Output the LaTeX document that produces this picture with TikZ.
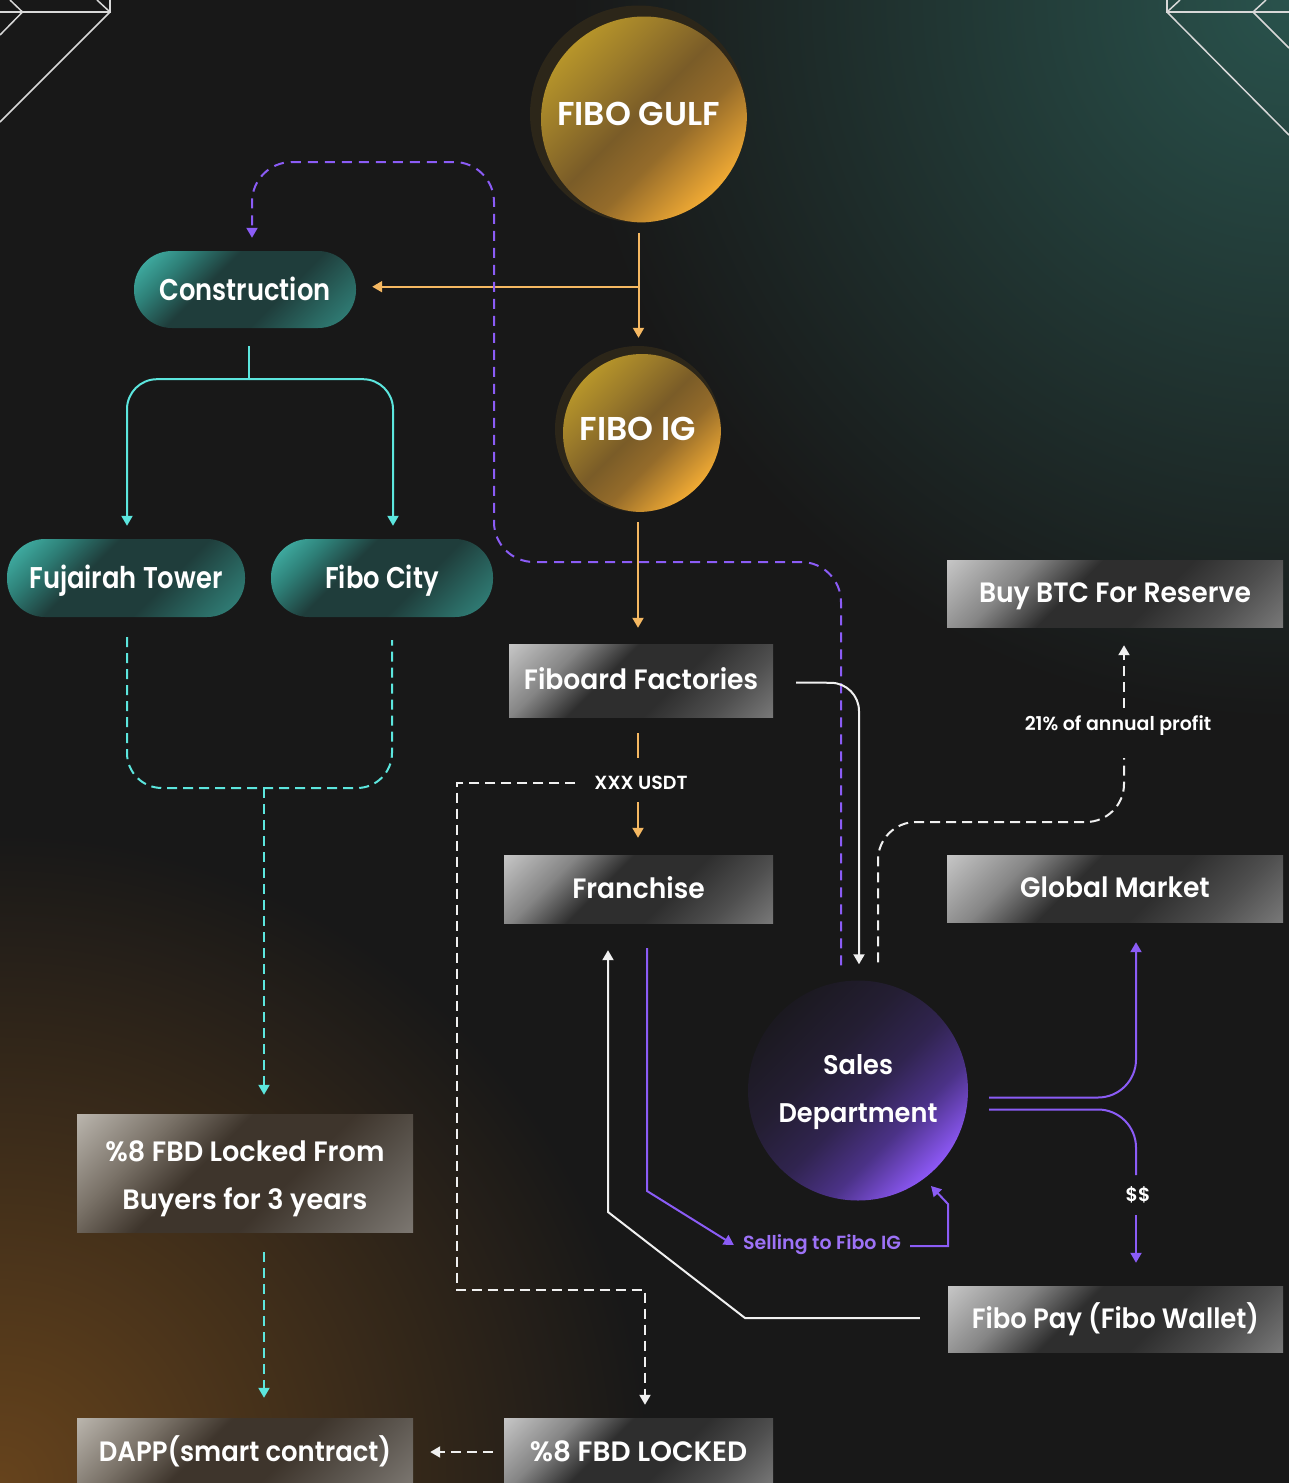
\documentclass[tikz,border=0pt]{standalone}
\usepackage{fontspec}
\newfontfamily\popA{Poppins SemiBold}[FakeStretch=0.86]
\newfontfamily\popB{Poppins SemiBold}[FakeStretch=0.95]
\newfontfamily\popC{Poppins SemiBold}
\newfontfamily\popD{Poppins SemiBold}[FakeStretch=0.97]
\newfontfamily\popE{Poppins SemiBold}[FakeStretch=0.925]
\usetikzlibrary{arrows.meta,calc}
\definecolor{bg}{HTML}{181818}
\definecolor{tglow}{HTML}{29524C}
\definecolor{bglow}{HTML}{66431C}
\definecolor{corng}{HTML}{F5B862}
\definecolor{ccyan}{HTML}{5CE6DE}
\definecolor{cpurp}{HTML}{8B5CF6}
\definecolor{cpurptxt}{HTML}{9D72F7}
\definecolor{cwhite}{HTML}{F0F0F0}
\definecolor{ccorner}{HTML}{D8D8D8}
\definecolor{halo}{HTML}{2C2619}
% gray box
\definecolor{gsA}{HTML}{C4C4C4}
\definecolor{gsB}{HTML}{858585}
\definecolor{gsC}{HTML}{2E2E2E}
\definecolor{gsD}{HTML}{4E4E4E}
\definecolor{gsE}{HTML}{7A7A7A}
\pgfdeclarehorizontalshading{graysh}{100bp}{color(0bp)=(gsA); color(15bp)=(gsA); color(30bp)=(gsB); color(42bp)=(gsC); color(58bp)=(gsC); color(72bp)=(gsD); color(86bp)=(gsE); color(100bp)=(gsE)}
% warm box
\definecolor{wsA}{HTML}{B8B3AB}
\definecolor{wsB}{HTML}{7A7268}
\definecolor{wsC}{HTML}{3E352C}
\definecolor{wsD}{HTML}{5C564F}
\definecolor{wsE}{HTML}{7D7872}
\pgfdeclarehorizontalshading{warmsh}{100bp}{color(0bp)=(wsA); color(15bp)=(wsA); color(30bp)=(wsB); color(42bp)=(wsC); color(58bp)=(wsC); color(72bp)=(wsD); color(86bp)=(wsE); color(100bp)=(wsE)}
% teal pill
\definecolor{tsA}{HTML}{48C2B6}
\definecolor{tsB}{HTML}{2E8078}
\definecolor{tsC}{HTML}{1F3D3B}
\definecolor{tsD}{HTML}{2A6862}
\definecolor{tsE}{HTML}{348A82}
\pgfdeclarehorizontalshading{tealsh}{100bp}{color(0bp)=(tsA); color(14bp)=(tsA); color(28bp)=(tsB); color(40bp)=(tsC); color(60bp)=(tsC); color(74bp)=(tsD); color(86bp)=(tsE); color(100bp)=(tsE)}
% gold
\definecolor{gdA}{HTML}{BE9C2A}
\definecolor{gdB}{HTML}{9C7C2A}
\definecolor{gdC}{HTML}{7A5C28}
\definecolor{gdD}{HTML}{946B2A}
\definecolor{gdE}{HTML}{F0AA34}
\pgfdeclarehorizontalshading{goldsh}{100bp}{color(0bp)=(gdA); color(25bp)=(gdA); color(38bp)=(gdB); color(50bp)=(gdC); color(60bp)=(gdD); color(75bp)=(gdE); color(100bp)=(gdE)}
% purple
\definecolor{psA}{HTML}{1B1920}
\definecolor{psB}{HTML}{241E33}
\definecolor{psC}{HTML}{30244F}
\definecolor{psD}{HTML}{4B3287}
\definecolor{psE}{HTML}{8D58F6}
\pgfdeclarehorizontalshading{purpsh}{100bp}{color(0bp)=(psA); color(25bp)=(psA); color(40bp)=(psB); color(52bp)=(psC); color(63bp)=(psD); color(75bp)=(psE); color(100bp)=(psE)}
\newcommand\fBig{\popC\fontsize{33}{40}\selectfont}
\newcommand\fPill{\popA\fontsize{30}{36}\selectfont}
\newcommand\fBoxT{\popB\fontsize{28}{34}\selectfont}
\newcommand\fBoxN{\popE\fontsize{28}{34}\selectfont}
\newcommand\fCapsT{\popC\fontsize{28}{34}\selectfont}
\newcommand\fTwo{\popD\fontsize{28}{48}\selectfont}
\newcommand\fSales{\popB\fontsize{27}{48}\selectfont}
\newcommand\fLab{\popC\fontsize{19}{24}\selectfont}
\begin{document}
\begin{tikzpicture}[x=1pt,y=-1pt,
  >={Triangle[length=10pt,width=11pt]},
  oline/.style={draw=corng,line width=2pt},
  cline/.style={draw=ccyan,line width=2pt},
  cdash/.style={cline,dash pattern=on 10pt off 6pt},
  pline/.style={draw=cpurp,line width=2pt},
  pdash/.style={pline,dash pattern=on 10pt off 7pt},
  wline/.style={draw=cwhite,line width=2pt},
  wdash/.style={wline,dash pattern=on 10pt off 6pt},
  cornerline/.style={draw=ccorner,line width=1.5pt},
  graybox/.style={rectangle,inner sep=0pt,shade,shading=graysh,shading angle=-45,text=white,font=\fBoxT,text height=18pt,text depth=0pt},
  warmbox/.style={rectangle,inner sep=0pt,shade,shading=warmsh,shading angle=-45,text=white,font=\fBoxT,text height=18pt,text depth=0pt},
  pill/.style={rectangle,rounded corners=38pt,inner sep=0pt,shade,shading=tealsh,shading angle=-45,text=white,font=\fPill,text height=21.5pt,text depth=0pt},
  goldc/.style={circle,inner sep=0pt,fill=halo,text=white,font=\fBig,text depth=0pt},
  lab/.style={inner sep=0pt,text=white,font=\fLab}
]
\useasboundingbox (0,0) rectangle (1289,1483);
% background
\fill[bg] (0,0) rectangle (1289,1483);
\begin{scope}
\clip (0,0) rectangle (1289,1483);
\shade[inner color=tglow, outer color=bg] (1289,0) circle (720);
\shade[inner color=bglow, outer color=bg] (0,1483) circle (650);
\end{scope}
% corner ornaments
\draw[cornerline] (0,12) -- (110,12) -- (110,0);
\draw[cornerline] (97,0) -- (110,12) -- (0,122);
\draw[cornerline] (10,0) -- (22.5,12) -- (0,35);
\draw[cornerline] (1167,0) -- (1167,12) -- (1289,12);
\draw[cornerline] (1180,0) -- (1167,12) -- (1289,135);
\draw[cornerline] (1266,0) -- (1253,12) -- (1289,48);

% nodes
\node[goldc, minimum size=217pt, path picture={\shade[shading=goldsh,shading angle=-45] ($(path picture bounding box.center)+(5.5,5.5)$) circle (103);}] (gulf) at (638.5,114) {FIBO GULF};
\node[goldc, minimum size=166pt, path picture={\shade[shading=goldsh,shading angle=-45] ($(path picture bounding box.center)+(4,4)$) circle (79);}] (ig) at (638,429) {FIBO IG};

\node[pill, minimum width=222pt, minimum height=77pt] (cons) at (245,289.5) {Construction};
\node[pill, minimum width=238pt, minimum height=78pt] (fuj) at (126,578) {Fujairah Tower};
\node[pill, minimum width=222pt, minimum height=78pt] (city) at (382,578) {Fibo City};

\node[graybox, minimum width=264pt, minimum height=73pt] (fiboard) at (641,680.5) {Fiboard Factories};
\node[graybox, minimum width=269pt, minimum height=68pt] (franchise) at (638.5,889) {Franchise};
\node[graybox, minimum width=336pt, minimum height=67pt] (btc) at (1115,593.5) {Buy BTC For Reserve};
\node[graybox, minimum width=336pt, minimum height=67pt] (global) at (1115,888.5) {Global Market};
\node[graybox, minimum width=335pt, minimum height=66pt, font=\fBoxN] (fibopay) at (1115.5,1319) {Fibo Pay (Fibo Wallet)};
\node[warmbox, minimum width=336pt, minimum height=118pt, align=center, font=\fTwo, text height=72pt, text depth=0pt] (lock3) at (245,1173) {\%8 FBD Locked From\\Buyers for 3 years};
\node[warmbox, minimum width=336pt, minimum height=68pt, font=\fBoxN] (dapp) at (245,1452) {DAPP(smart contract)};
\node[graybox, minimum width=269pt, minimum height=68pt, font=\fCapsT] (fbdl) at (638.5,1452) {\%8 FBD LOCKED};

\node[circle, minimum size=220pt, inner sep=0pt, shade, shading=purpsh, shading angle=-45, text=white, align=center, font=\fSales, text height=64pt, text depth=0pt] (sales) at (858,1090.5) {Sales\\Department};

\node[lab] (xxx) at (641,783) {XXX USDT};
\node[lab] (prof) at (1118,726) {21\% of annual profit};
\node[lab] (dol) at (1138,1195) {\$\$};
\node[lab, text=cpurptxt] (sell) at (822,1245) {Selling to Fibo IG};

% orange connectors
\draw[oline,->] ($(gulf.south)+(0,10)$) -- ($(ig.north)+(0.5,-8)$);
\coordinate (obr) at ($(gulf.south)+(0,64)$);
\draw[oline,->] (obr) -- ($(cons.east |- obr)+(16,0)$);
\draw[oline,->] ($(ig.south)+(0,10)$) -- ($(ig.south |- fiboard.north)+(0,-16)$);
\draw[oline] ($(ig.south |- fiboard.south)+(0,16)$) -- ($(xxx.center)+(-3,-25)$);
\draw[oline,->] ($(xxx.center)+(-3,19)$) -- ($(ig.south |- franchise.north)+(0,-17)$);

% cyan connectors
\draw[cline] ($(cons.south)+(4,18)$) -- ++(0,33) coordinate (cj);
\draw[cline,->,rounded corners=30pt] (cj) -| ($(fuj.north)+(1,-13)$);
\draw[cline,->,rounded corners=30pt] (cj) -| ($(city.north)+(11,-13)$);
\draw[cdash,rounded corners=35pt] ($(fuj.south)+(1,20)$) -- (127,788) -- (392,788) -- ($(city.south)+(10,23)$);
\coordinate (cjoin) at (264,788);
\draw[cdash,->] (cjoin) -- ($(lock3.north)+(19,-19)$);
\draw[cdash,->] ($(lock3.south)+(19,20)$) -- ($(dapp.north)+(19,-20)$);

% purple dashed to construction
\draw[pdash,->,rounded corners=40pt] ($(sales.north)+(-17,-15)$) -- (841,562) -- (494,562) -- (494,162) -- (252,162) -- ($(cons.north)+(7,-13)$);

% white solid fiboard -> sales
\draw[wline,->,rounded corners=28pt] ($(fiboard.east)+(23,2)$) -- (859,683) -- ($(sales.north)+(1,-16)$);

% white dashed sales -> btc
\draw[wdash,rounded corners=38pt] ($(sales.north)+(20,-18)$) -- (878,822) -- (1124,822) -- ($(prof.center)+(6,32)$);
\draw[wdash,->] ($(prof.center)+(6,-18)$) -- ($(btc.south)+(9,18)$);

% white dashed XXX USDT -> %8 FBD LOCKED
\draw[wdash,->] ($(xxx.west)+(-19,0)$) -- (457,783) -- (457,1290) -- (645,1290) -- ($(fbdl.north)+(6.5,-13)$);
\draw[wdash,->] ($(fbdl.west)+(-11,0)$) -- ($(dapp.east)+(17,0)$);

% purple solid sales -> global / fibopay
\draw[pline,->,rounded corners=38pt] ($(sales.east)+(21,7)$) -- (1136,1097.5) -- ($(global.south)+(21,20)$);
\draw[pline,rounded corners=38pt] ($(sales.east)+(21,19)$) -- (1136,1109.5) -- ($(dol.center)+(-2,-20)$);
\draw[pline,->] ($(dol.center)+(-2,20)$) -- ($(fibopay.north)+(20.5,-23)$);

% white solid fibopay -> franchise
\draw[wline,->] ($(fibopay.west)+(-28,-1)$) -- (745,1318) -- (608,1212) -- ($(franchise.south)+(-30.5,27)$);

% purple solid franchise -> selling -> sales
\draw[pline,->] ($(franchise.south)+(8.5,25)$) -- (647,1191) -- ($(sell.west)+(-9,0)$);
\draw[pline,->] ($(sell.east)+(9,1)$) -- (948,1246) -- (948,1204) -- ($(sales.center)+(73,95.5)$);
\end{tikzpicture}
\end{document}
